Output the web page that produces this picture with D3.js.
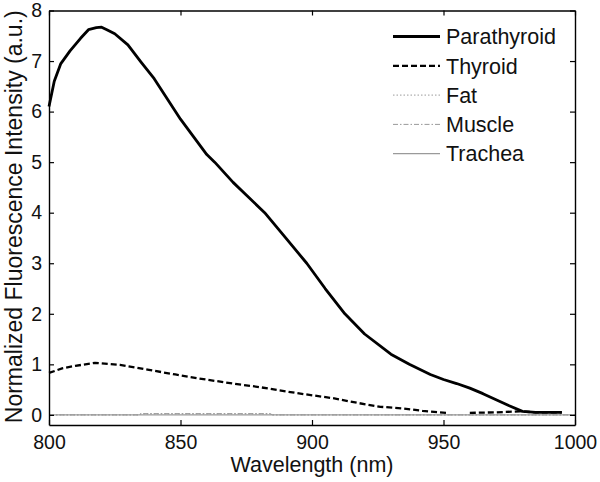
<!DOCTYPE html>
<html>
<head>
<meta charset="utf-8">
<script src="https://cdn.jsdelivr.net/npm/d3@7"></script>
<style>
  body { margin: 0; background: #fff; }
  text { font-family: "Liberation Sans", Arial, sans-serif; fill: #111; }
</style>
</head>
<body>
<script>
// spectra (wavelength in nm, normalized intensity)
var paraWl  = [800, 802, 804.5, 808, 812, 815, 818, 820, 822, 825, 830, 835, 840, 845, 850, 855, 860, 863, 870, 875, 882, 890, 898, 905, 912.5, 920, 930, 937, 945, 950, 955, 960, 965, 970, 975, 980, 985, 990, 995];
var paraVal = [6.1, 6.6, 6.95, 7.2, 7.45, 7.62, 7.66, 7.67, 7.62, 7.54, 7.32, 6.98, 6.65, 6.25, 5.85, 5.5, 5.15, 5.0, 4.6, 4.35, 4.0, 3.5, 3.0, 2.5, 2.0, 1.6, 1.2, 1.0, 0.8, 0.7, 0.62, 0.53, 0.42, 0.3, 0.18, 0.07, 0.05, 0.05, 0.05];

var thyWl  = [800, 805, 810, 817.5, 827, 838, 848, 857, 870, 880, 887, 897, 908, 917, 926, 934, 942, 951, 955, 960, 970, 979, 985, 990, 995];
var thyVal = [0.83, 0.92, 0.97, 1.03, 0.99, 0.89, 0.8, 0.72, 0.62, 0.55, 0.49, 0.41, 0.33, 0.24, 0.16, 0.13, 0.08, 0.04, null, 0.04, 0.05, 0.07, 0.05, 0.05, 0.05];

var fatWl  = [800, 834, 835, 884, 885, 1000];
var fatVal = [0, 0, 0.02, 0.02, 0, 0];

var muscWl  = [800, 834, 835, 884, 885, 1000];
var muscVal = [0, 0, 0.025, 0.025, 0, 0];

var trachWl  = [800, 1000];
var trachVal = [0, 0];

var xTicks = [800, 850, 900, 950, 1000];
var yTicks = [0, 1, 2, 3, 4, 5, 6, 7, 8];

var seriesNames = ["Parathyroid", "Thyroid", "Fat", "Muscle", "Trachea"];

var margin = {top: 10.5, right: 25, bottom: 57, left: 49},
    width = 600 - margin.left - margin.right,
    height = 482 - margin.top - margin.bottom;

var xScale = d3.scaleLinear().domain([800, 1000]).range([0, width]);
var yScale = d3.scaleLinear().domain([-0.2, 8]).range([height, 0]);

// line styles, same order as seriesNames
var styles = [
    {stroke: "#000", width: 2.8, dash: null},
    {stroke: "#000", width: 2.3, dash: "6,3"},
    {stroke: "#9a9a9a", width: 1, dash: "1.5,2"},
    {stroke: "#9a9a9a", width: 1, dash: "5,2,1.5,2"},
    {stroke: "#9a9a9a", width: 1.2, dash: null}
];

function zip(wl, val) {
    return wl.map(function(w, i) { return {x: w, y: val[i]}; });
}

var series = [zip(paraWl, paraVal), zip(thyWl, thyVal), zip(fatWl, fatVal), zip(muscWl, muscVal), zip(trachWl, trachVal)];

var svg = d3.select("body").append("svg")
    .attr("width", 600)
    .attr("height", 482)
  .append("g")
    .attr("transform", "translate(" + margin.left + "," + margin.top + ")");

var line = d3.line()
    .defined(function(d) { return d.y !== null; })
    .x(function(d) { return xScale(d.x); })
    .y(function(d) { return yScale(d.y); });

// fat and muscle first so the trachea line sits over them
var drawOrder = [2, 3, 4, 1, 0];
drawOrder.forEach(function(i) {
    svg.append("path")
        .datum(series[i])
        .attr("fill", "none")
        .attr("stroke", styles[i].stroke)
        .attr("stroke-width", styles[i].width)
        .attr("stroke-dasharray", styles[i].dash)
        .attr("stroke-linejoin", "round")
        .attr("d", line);
});

// axes, ticks pointing inward on all four sides
var xAxis = d3.axisBottom(xScale).tickValues(xTicks).tickFormat(d3.format("d")).tickSizeInner(-5).tickSizeOuter(0).tickPadding(10);
var xAxisTop = d3.axisTop(xScale).tickValues(xTicks).tickSizeInner(-5).tickSizeOuter(0).tickFormat("");
var yAxis = d3.axisLeft(yScale).tickValues(yTicks).tickSizeInner(-5).tickSizeOuter(0).tickPadding(7);
var yAxisRight = d3.axisRight(yScale).tickValues(yTicks).tickSizeInner(-5).tickSizeOuter(0).tickFormat("");

svg.append("g").attr("transform", "translate(0," + height + ")").call(xAxis);
svg.append("g").call(xAxisTop);
svg.append("g").call(yAxis);
svg.append("g").attr("transform", "translate(" + width + ",0)").call(yAxisRight);

svg.selectAll(".domain").attr("stroke", "#000").attr("stroke-width", 1.4);
svg.selectAll(".tick line").attr("stroke", "#000").attr("stroke-width", 1.2);
svg.selectAll(".tick text")
    .style("font-size", "19.5px")
    .style("font-family", "'Liberation Sans', Arial, sans-serif")
    .attr("fill", "#111");

// x axis label
svg.append("text")
    .attr("x", width / 2)
    .attr("y", height + 47)
    .attr("text-anchor", "middle")
    .style("font-size", "21.5px")
    .text("Wavelength (nm)");

// y axis label
svg.append("text")
    .attr("transform", "rotate(-90)")
    .attr("x", -height / 2 + 1)
    .attr("y", -27)
    .attr("text-anchor", "middle")
    .style("font-size", "23px")
    .text("Normalized Fluorescence Intensity (a.u.)");

// legend
var legend = svg.selectAll(".legend")
    .data(seriesNames)
    .enter().append("g")
    .attr("class", "legend")
    .attr("transform", function(d, i) { return "translate(0," + (26 + i * 29.3) + ")"; });

legend.append("line")
    .attr("x1", 344)
    .attr("x2", 391)
    .attr("stroke", function(d, i) { return styles[i].stroke; })
    .attr("stroke-width", function(d, i) { return styles[i].width; })
    .attr("stroke-dasharray", function(d, i) { return styles[i].dash; });

legend.append("text")
    .attr("x", 397)
    .attr("dy", "0.36em")
    .style("font-size", "21.5px")
    .text(function(d) { return d; });
</script>
</body>
</html>
